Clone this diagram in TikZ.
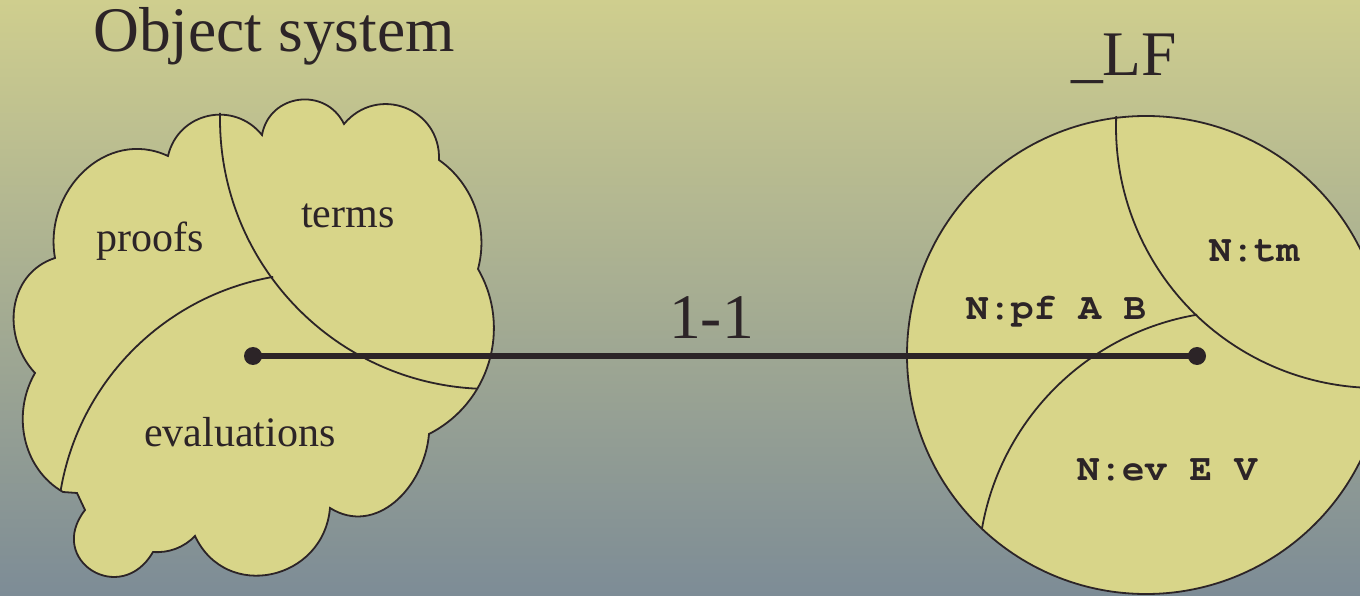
\documentclass[tikz,border=0pt]{standalone}
\usepackage{fontspec}
\setmainfont{Liberation Serif}

\definecolor{ink}{RGB}{44,36,39}
\definecolor{shapefill}{RGB}{216,213,137}
\definecolor{bgtop}{RGB}{207,206,142}
\definecolor{bgmid}{RGB}{172,176,142}
\definecolor{bgbot}{RGB}{125,140,150}

% bold Courier for the LF type families
\newcommand{\lfcode}{\fontencoding{T1}\fontfamily{pcr}\fontseries{b}\fontsize{37.5}{42}\selectfont}

\tikzset{
  region/.style={draw=ink, line width=1.8, fill=shapefill, line join=miter},
  divider/.style={draw=ink, line width=1.8},
  link/.style={draw=ink, line width=6.5},
  dot/.style={circle, fill=ink, inner sep=0, minimum size=18},
  title/.style={font=\fontsize{63.5}{70}\selectfont, text=ink, inner sep=0},
  label/.style={font=\fontsize{42}{48}\selectfont, text=ink, inner sep=0, anchor=base west},
  code/.style={font=\lfcode, text=ink, inner sep=0, anchor=base west},
}

\begin{document}
\begin{tikzpicture}[x=1pt, y=1pt]
  \useasboundingbox (0,0) rectangle (1360,595);
  \clip (0,0) rectangle (1360,595);

  % background
  \shade[top color=bgtop, middle color=bgmid, bottom color=bgbot] (0,0) rectangle (1360,595);

  % the object system: a cloud
  \draw[region]
    (55,337) to[out=100, in=155, distance=68] (168,439)
             to[out=77,  in=129, distance=45] (262,460)
             to[out=80,  in=116, distance=42] (344,471)
             to[out=50,  in=88,  distance=52] (439,435)
             to[out=-35, in=75,  distance=42] (478,326)
             to[out=-60, in=27,  distance=68] (429,161)
             to[out=-95, in=328, distance=54] (330,87)
             to[out=265, in=295, distance=73] (195,59)
             to[out=226, in=356, distance=16] (153,43)
             to[out=240, in=232, distance=64] (85,85)
             -- (77,102) -- (63,103)
             to[out=150, in=240, distance=47] (35,222)
             to[out=133, in=198, distance=50] (55,337)
    -- cycle;
  % its three parts
  \draw[divider] (490,476) ++(178.7:270) arc[start angle=178.7, end angle=267.2, radius=270];
  \draw[divider] (318,61) ++(99.9:261) arc[start angle=99.9, end angle=170.3, radius=261];

  % the LF encoding: a disc
  \draw[region] (1146,240) circle[radius=239];
  \draw[divider] (1377,468) ++(177.6:261) arc[start angle=177.6, end angle=275, radius=261];
  \draw[divider] (1241,21) ++(99.6:263) arc[start angle=99.6, end angle=170.1, radius=263];

  % the bijection
  \node[dot] (src) at (253,239) {};
  \node[dot] (dst) at (1197,239) {};
  \draw[link] (src.center) -- (dst.center);

  % headings
  \node[title, anchor=base west] (objsys) at (93,543) {Object system};
  \node[title, anchor=base west] (lf) at (1071,519) {\_LF};
  \node[title, anchor=base] (bij) at (711.5,256) {1-1};

  % parts of the object system
  \node[label] (proofs) at (96,343) {proofs};
  \node[label] (terms) at (301,367) {terms};
  \node[label] (evals) at (144,149) {evaluations};

  % their LF types
  \node[code] (pf) at (966,275) {N:pf A B};
  \node[code] (tm) at (1209,333) {N:tm};
  \node[code] (ev) at (1077,115) {N:ev E V};
\end{tikzpicture}
\end{document}
